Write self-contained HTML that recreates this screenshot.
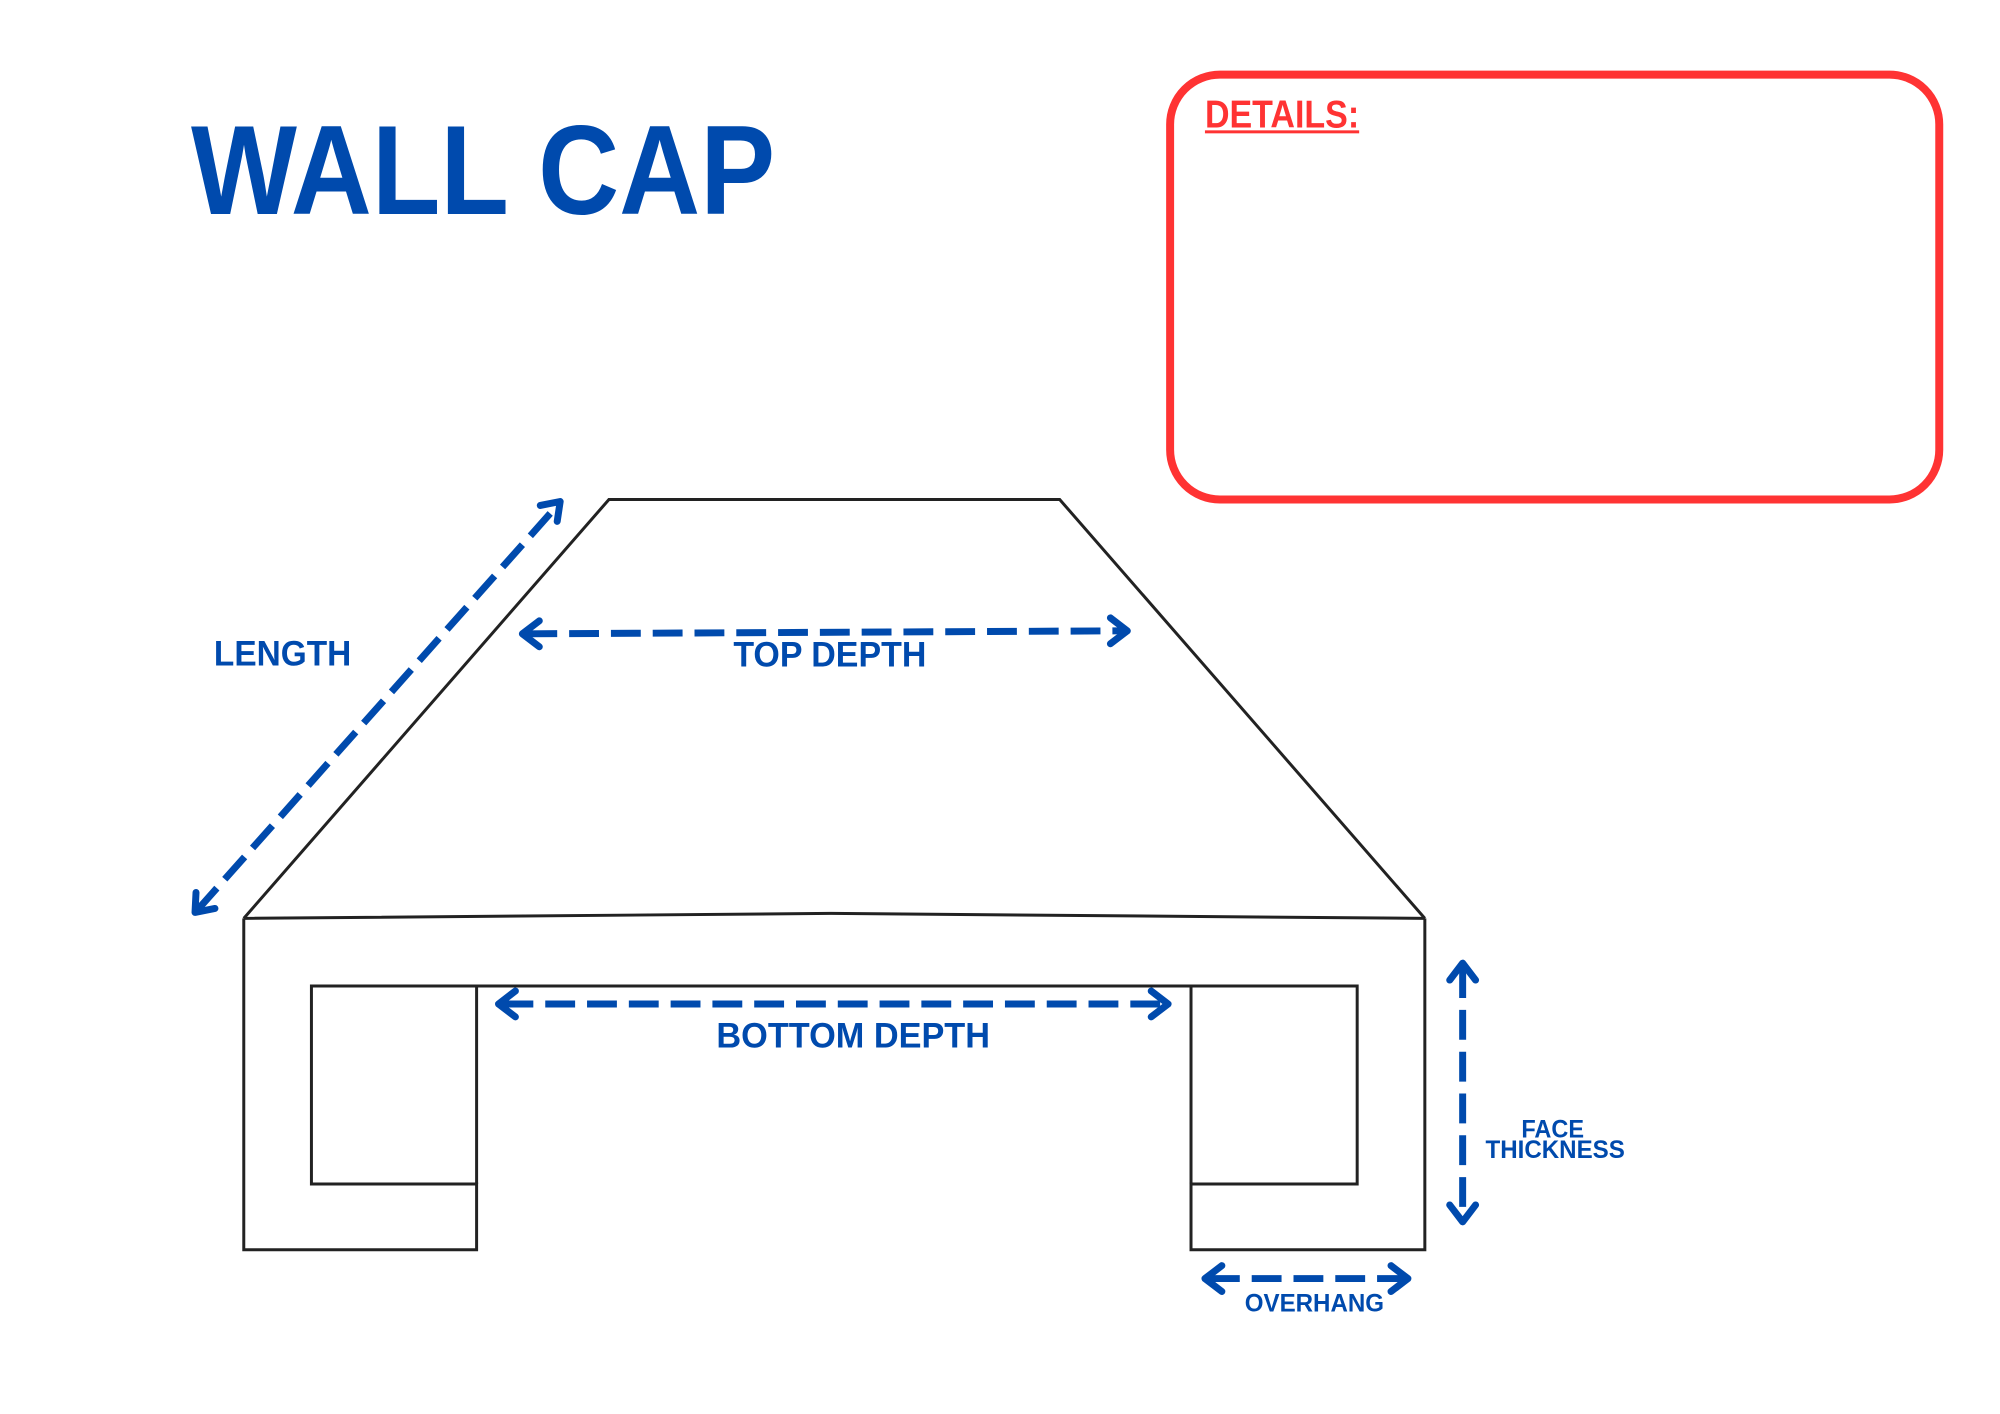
<!DOCTYPE html>
<html><head><meta charset="utf-8"><style>html,body{margin:0;padding:0;background:#fff}svg{display:block}</style></head>
<body>
<svg width="2000" height="1414" viewBox="0 0 2000 1414" xmlns="http://www.w3.org/2000/svg">
<rect width="2000" height="1414" fill="#fff"/>
<g transform="scale(0.995)">
<text x="192" y="215" font-family="Liberation Sans, sans-serif" font-weight="bold" font-size="128" fill="#004aad" textLength="587" lengthAdjust="spacingAndGlyphs">WALL CAP</text>
<rect x="1176" y="75" width="773" height="427" rx="50" ry="50" fill="none" stroke="#ff3333" stroke-width="8"/>
<text x="1211" y="128" font-family="Liberation Sans, sans-serif" font-weight="bold" font-size="39" fill="#ff3333" textLength="155" lengthAdjust="spacingAndGlyphs">DETAILS:</text>
<rect x="1211" y="131" width="155" height="3" fill="#ff3333"/>
<g fill="none" stroke="#222" stroke-width="3" stroke-linejoin="miter">
<path d="M245,923 L612,502 L1065,502 L1432,923"/>
<path d="M245,923 L835,918 L1432,923"/>
<path d="M245,923 L245,1256 L479,1256 L479,1190 L313,1190 L313,991 L1364,991 L1364,1190 L1197,1190 L1197,1256 L1432,1256 L1432,923"/>
<path d="M479,991 L479,1190 M1197,991 L1197,1190"/>
</g>
<g fill="none" stroke="#004aad" stroke-width="7" stroke-linecap="round" stroke-linejoin="round">
<path d="M198,915 L561,507" stroke-dasharray="30 12" stroke-linecap="butt"/>
<path d="M197,897 L196,917 L216,913 M543,508 L563,504 L560,524"/>
<path d="M530,637 L1128,634" stroke-dasharray="30 12" stroke-linecap="butt"/>
<path d="M542,624 L525,637 L542,650 M1116,621 L1133,634 L1116,647"/>
<path d="M506,1009 L1169,1009" stroke-dasharray="30 12" stroke-linecap="butt"/>
<path d="M518,996 L501,1009 L518,1022 M1157,996 L1174,1009 L1157,1022"/>
<path d="M1470,973 L1470,1223" stroke-dasharray="30 12" stroke-linecap="butt"/>
<path d="M1457,985 L1470,968 L1483,985 M1457,1211 L1470,1228 L1483,1211"/>
<path d="M1216,1285 L1410,1285" stroke-dasharray="30 12" stroke-linecap="butt"/>
<path d="M1228,1272 L1211,1285 L1228,1298 M1398,1272 L1415,1285 L1398,1298"/>
</g>
<g font-family="Liberation Sans, sans-serif" font-weight="bold" fill="#004aad">
<text x="215" y="669" font-size="35" textLength="138" lengthAdjust="spacingAndGlyphs">LENGTH</text>
<text x="737" y="670" font-size="35" textLength="194" lengthAdjust="spacingAndGlyphs">TOP DEPTH</text>
<text x="720" y="1053" font-size="35" textLength="275" lengthAdjust="spacingAndGlyphs">BOTTOM DEPTH</text>
<text x="1529" y="1143" font-size="25" textLength="63" lengthAdjust="spacingAndGlyphs">FACE</text>
<text x="1493" y="1164" font-size="25" textLength="140" lengthAdjust="spacingAndGlyphs">THICKNESS</text>
<text x="1251" y="1318" font-size="25" textLength="140" lengthAdjust="spacingAndGlyphs">OVERHANG</text>
</g>
</g>
</svg>
</body></html>
